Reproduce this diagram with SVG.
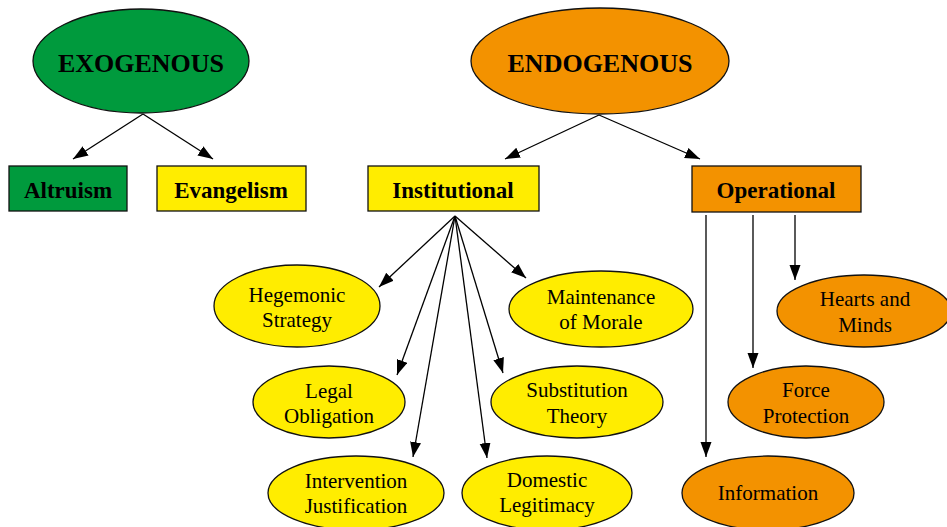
<svg xmlns="http://www.w3.org/2000/svg" width="947" height="527" viewBox="0 0 947 527">
<style>
.g{fill:#009A3D}.o{fill:#F39200}.y{fill:#FFED00}
.n{stroke:#111;stroke-width:1.3}
.t{font-family:"Liberation Serif","Times New Roman",serif;text-anchor:middle;fill:#000}
.big{font-size:26px;font-weight:bold}
.box{font-size:23px;font-weight:bold}
.el{font-size:21px}
.c line{stroke:#000;stroke-width:1.3;marker-end:url(#ah)}
</style>
<defs>
<marker id="ah" markerUnits="userSpaceOnUse" markerWidth="16" markerHeight="12" refX="15" refY="5.5" orient="auto">
<path d="M0,0 L15,5.5 L0,11 z" fill="#000"/>
</marker>
</defs>
<g class="c">
<line x1="143" y1="114" x2="73" y2="159"/>
<line x1="143" y1="114" x2="213" y2="159"/>
<line x1="599" y1="115" x2="505" y2="159"/>
<line x1="599" y1="115" x2="700" y2="159"/>
<line x1="455" y1="216" x2="379" y2="287"/>
<line x1="455" y1="216" x2="397" y2="375"/>
<line x1="455" y1="216" x2="413" y2="457"/>
<line x1="455" y1="216" x2="487" y2="458"/>
<line x1="455" y1="216" x2="503" y2="373"/>
<line x1="455" y1="216" x2="526" y2="278"/>
<line x1="706" y1="215" x2="706" y2="457"/>
<line x1="753" y1="215" x2="753" y2="368"/>
<line x1="795" y1="215" x2="795" y2="280"/>
</g>
<g id="exogenous"><ellipse class="g n" cx="141" cy="61" rx="108" ry="52"/><text class="t big" x="141" y="72">EXOGENOUS</text></g>
<g id="endogenous"><ellipse class="o n" cx="600" cy="61" rx="129" ry="53"/><text class="t big" x="600" y="72">ENDOGENOUS</text></g>
<g id="altruism"><rect class="g n" x="9" y="166" width="118" height="45"/><text class="t box" x="68" y="198">Altruism</text></g>
<g id="evangelism"><rect class="y n" x="157" y="166" width="149" height="45"/><text class="t box" x="231" y="198">Evangelism</text></g>
<g id="institutional"><rect class="y n" x="368" y="166" width="171" height="45"/><text class="t box" x="453" y="198">Institutional</text></g>
<g id="operational"><rect class="o n" x="692" y="166" width="169" height="46"/><text class="t box" x="776" y="198">Operational</text></g>
<g id="hegemonic"><ellipse class="y n" cx="297" cy="306" rx="83" ry="41"/><text class="t el" x="297" y="302">Hegemonic</text><text class="t el" x="297" y="327">Strategy</text></g>
<g id="legal"><ellipse class="y n" cx="329" cy="402" rx="76" ry="36"/><text class="t el" x="329" y="398">Legal</text><text class="t el" x="329" y="423">Obligation</text></g>
<g id="intervention"><ellipse class="y n" cx="356" cy="493" rx="88" ry="37"/><text class="t el" x="356" y="488">Intervention</text><text class="t el" x="356" y="513">Justification</text></g>
<g id="domestic"><ellipse class="y n" cx="547" cy="493" rx="85" ry="37"/><text class="t el" x="547" y="487">Domestic</text><text class="t el" x="547" y="512">Legitimacy</text></g>
<g id="substitution"><ellipse class="y n" cx="577" cy="402" rx="86" ry="36"/><text class="t el" x="577" y="397">Substitution</text><text class="t el" x="577" y="423">Theory</text></g>
<g id="maintenance"><ellipse class="y n" cx="601" cy="309" rx="92" ry="38"/><text class="t el" x="601" y="304">Maintenance</text><text class="t el" x="601" y="329">of Morale</text></g>
<g id="hearts"><ellipse class="o n" cx="864" cy="311" rx="87" ry="36"/><text class="t el" x="865" y="306">Hearts and</text><text class="t el" x="865" y="332">Minds</text></g>
<g id="force"><ellipse class="o n" cx="806" cy="402" rx="78" ry="36"/><text class="t el" x="806" y="397">Force</text><text class="t el" x="806" y="423">Protection</text></g>
<g id="information"><ellipse class="o n" cx="768" cy="493" rx="86" ry="37"/><text class="t el" x="768" y="500">Information</text></g>
</svg>
